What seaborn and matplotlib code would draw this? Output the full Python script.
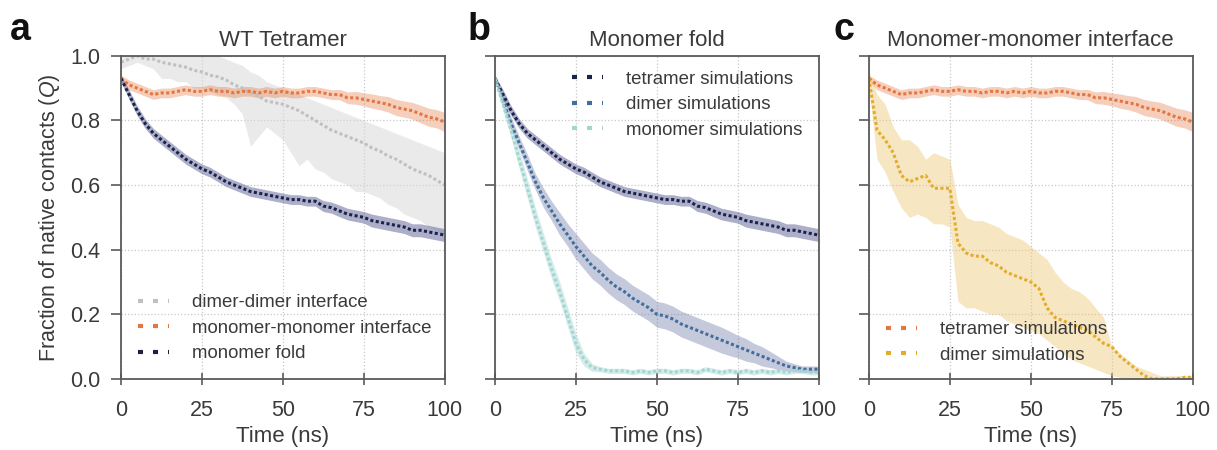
import numpy as np
import pandas as pd
import matplotlib
matplotlib.use('Agg')
import matplotlib.pyplot as plt
from matplotlib.lines import Line2D
import seaborn as sns

#%% data (values every 2.5 ns)
time = np.arange(0, 100.1, 2.5)

# a: WT tetramer
dimer_dimer = [0.98, 0.99, 1.0, 0.99, 0.99, 0.98, 0.975, 0.97, 0.965, 0.955, 0.95,
               0.94, 0.935, 0.925, 0.91, 0.90, 0.885, 0.875, 0.86, 0.855, 0.85,
               0.84, 0.83, 0.815, 0.80, 0.785, 0.77, 0.76, 0.75, 0.74, 0.73,
               0.715, 0.705, 0.69, 0.68, 0.665, 0.65, 0.64, 0.63, 0.615, 0.60]
dimer_dimer_lo = [0.96, 0.97, 0.98, 0.97, 0.96, 0.93, 0.93, 0.92, 0.92, 0.90, 0.90,
                  0.89, 0.88, 0.87, 0.85, 0.82, 0.72, 0.75, 0.78, 0.76, 0.74,
                  0.70, 0.66, 0.68, 0.65, 0.64, 0.62, 0.61, 0.60, 0.58, 0.58,
                  0.57, 0.56, 0.54, 0.53, 0.51, 0.50, 0.49, 0.47, 0.46, 0.44]
dimer_dimer_hi = [1.0, 1.0, 1.0, 1.0, 1.0, 1.0, 1.0, 1.0, 1.0, 1.0, 1.0,
                  1.0, 1.0, 0.99, 0.98, 0.97, 0.95, 0.94, 0.92, 0.91, 0.90,
                  0.89, 0.88, 0.87, 0.86, 0.85, 0.84, 0.83, 0.82, 0.81, 0.80,
                  0.79, 0.78, 0.77, 0.76, 0.75, 0.74, 0.73, 0.72, 0.71, 0.70]
mono_mono = [0.93, 0.91, 0.90, 0.89, 0.88, 0.885, 0.885, 0.89, 0.895, 0.89, 0.89,
             0.895, 0.89, 0.89, 0.885, 0.89, 0.89, 0.885, 0.89, 0.885, 0.89,
             0.885, 0.885, 0.89, 0.89, 0.885, 0.88, 0.88, 0.87, 0.87, 0.865,
             0.86, 0.855, 0.85, 0.84, 0.835, 0.83, 0.82, 0.81, 0.805, 0.795]
mono_mono_sd = [0.01, 0.015, 0.015, 0.015, 0.015, 0.015, 0.015, 0.015, 0.015, 0.015, 0.015,
                0.015, 0.015, 0.015, 0.015, 0.015, 0.015, 0.015, 0.015, 0.015, 0.015,
                0.015, 0.015, 0.015, 0.015, 0.015, 0.015, 0.016, 0.018, 0.02, 0.02,
                0.022, 0.022, 0.024, 0.025, 0.025, 0.026, 0.027, 0.028, 0.028, 0.03]
mono_fold = [0.93, 0.88, 0.83, 0.79, 0.76, 0.74, 0.72, 0.70, 0.68, 0.665, 0.65,
             0.64, 0.625, 0.61, 0.60, 0.59, 0.58, 0.575, 0.57, 0.565, 0.56,
             0.555, 0.555, 0.55, 0.55, 0.535, 0.53, 0.52, 0.51, 0.505, 0.50,
             0.49, 0.485, 0.48, 0.475, 0.47, 0.46, 0.46, 0.455, 0.45, 0.445]
mono_fold_sd = [0.01, 0.015, 0.015, 0.015, 0.015, 0.015, 0.015, 0.015, 0.015, 0.015, 0.015,
                0.015, 0.015, 0.015, 0.015, 0.015, 0.015, 0.015, 0.015, 0.015, 0.015,
                0.015, 0.015, 0.015, 0.015, 0.017, 0.017, 0.018, 0.018, 0.018, 0.018,
                0.02, 0.02, 0.02, 0.02, 0.02, 0.02, 0.02, 0.02, 0.02, 0.02]

# b: monomer fold in dimer / monomer simulations (tetramer = mono_fold)
dimer_fold = [0.93, 0.86, 0.79, 0.73, 0.67, 0.61, 0.56, 0.52, 0.48, 0.445, 0.41,
              0.38, 0.35, 0.33, 0.305, 0.285, 0.27, 0.25, 0.235, 0.22, 0.20,
              0.195, 0.185, 0.17, 0.16, 0.15, 0.14, 0.13, 0.12, 0.11, 0.10,
              0.09, 0.08, 0.07, 0.06, 0.05, 0.04, 0.035, 0.03, 0.03, 0.03]
dimer_fold_sd = [0.01, 0.015, 0.02, 0.02, 0.025, 0.025, 0.03, 0.03, 0.035, 0.035, 0.04,
                 0.04, 0.04, 0.04, 0.04, 0.04, 0.04, 0.04, 0.04, 0.04, 0.04,
                 0.04, 0.04, 0.04, 0.04, 0.04, 0.04, 0.04, 0.04, 0.038, 0.035,
                 0.035, 0.03, 0.03, 0.025, 0.02, 0.015, 0.012, 0.01, 0.01, 0.01]
monomer_fold = [0.93, 0.85, 0.77, 0.68, 0.59, 0.50, 0.42, 0.34, 0.27, 0.19, 0.11,
                0.06, 0.035, 0.03, 0.025, 0.025, 0.025, 0.02, 0.025, 0.02, 0.025,
                0.025, 0.02, 0.025, 0.025, 0.02, 0.03, 0.025, 0.02, 0.025, 0.02,
                0.025, 0.02, 0.025, 0.02, 0.025, 0.02, 0.025, 0.025, 0.02, 0.02]
monomer_fold_sd = [0.01, 0.02, 0.025, 0.03, 0.03, 0.03, 0.03, 0.03, 0.03, 0.03, 0.03,
                   0.02, 0.012, 0.008, 0.008, 0.008, 0.008, 0.008, 0.008, 0.008, 0.008,
                   0.008, 0.008, 0.008, 0.008, 0.008, 0.008, 0.008, 0.008, 0.008, 0.008,
                   0.008, 0.008, 0.008, 0.008, 0.008, 0.008, 0.008, 0.008, 0.008, 0.008]

# c: monomer-monomer interface in dimer simulations (tetramer = mono_mono)
dimer_iface = [0.93, 0.77, 0.74, 0.70, 0.63, 0.61, 0.62, 0.63, 0.59, 0.59, 0.59,
               0.42, 0.39, 0.38, 0.38, 0.36, 0.35, 0.33, 0.32, 0.31, 0.30,
               0.28, 0.22, 0.19, 0.18, 0.17, 0.16, 0.15, 0.13, 0.11, 0.10,
               0.07, 0.05, 0.03, 0.01, 0.0, 0.0, 0.0, 0.0, 0.005, 0.005]
dimer_iface_lo = [0.90, 0.68, 0.64, 0.58, 0.53, 0.50, 0.51, 0.50, 0.48, 0.48, 0.47,
                  0.24, 0.22, 0.22, 0.21, 0.20, 0.20, 0.18, 0.17, 0.16, 0.15,
                  0.14, 0.12, 0.10, 0.08, 0.06, 0.05, 0.04, 0.03, 0.02, 0.01,
                  0.005, 0.0, 0.0, 0.0, 0.0, 0.0, 0.0, 0.0, 0.0, 0.0]
dimer_iface_hi = [0.95, 0.88, 0.85, 0.78, 0.74, 0.74, 0.72, 0.68, 0.70, 0.69, 0.68,
                  0.54, 0.50, 0.49, 0.49, 0.48, 0.47, 0.45, 0.44, 0.43, 0.41,
                  0.39, 0.37, 0.33, 0.30, 0.28, 0.27, 0.25, 0.22, 0.19, 0.10,
                  0.08, 0.06, 0.04, 0.03, 0.02, 0.01, 0.01, 0.01, 0.01, 0.01]

titles = ['WT Tetramer', 'Monomer fold', 'Monomer-monomer interface']
letters = ['a', 'b', 'c']

c_grey, c_orange, c_navy = '#c0c0c0', '#e4763f', '#1c2348'
c_blue, c_teal, c_gold = '#416e9c', '#a3d6d2', '#e3ad2c'

#%% style
sns.set_style('ticks')
plt.rcParams['font.family'] = ['Liberation Sans', 'DejaVu Sans']
plt.rcParams['mathtext.fontset'] = 'custom'
plt.rcParams['mathtext.it'] = 'Liberation Sans:italic'
plt.rcParams['mathtext.rm'] = 'Liberation Sans'
txt = '#3a3a3a'

fig = plt.figure(figsize=(12.17, 4.5), dpi=100)
lefts = [0.0994, 0.4067, 0.714]
axes = [fig.add_axes([l, 0.158, 0.266, 0.718]) for l in lefts]


def draw(ax, y, lo, hi, color, band, alpha, label):
    ax.fill_between(time, lo, hi, color=band, alpha=alpha, lw=0)
    sns.lineplot(x=time, y=y, ax=ax, color=color, lw=2.2,
                 linestyle=(0, (1, 0.8)), label=label)


def sd_band(y, sd):
    y, sd = np.asarray(y), np.asarray(sd)
    return y - sd, y + sd


ax = axes[0]
draw(ax, dimer_dimer, dimer_dimer_lo, dimer_dimer_hi, c_grey, '#d9d9d9', 0.55,
     'dimer-dimer interface')
draw(ax, mono_mono, *sd_band(mono_mono, mono_mono_sd), c_orange, c_orange, 0.35,
     'monomer-monomer interface')
draw(ax, mono_fold, *sd_band(mono_fold, mono_fold_sd), c_navy, '#5a5f96', 0.5,
     'monomer fold')

ax = axes[1]
draw(ax, mono_fold, *sd_band(mono_fold, mono_fold_sd), c_navy, '#5a5f96', 0.5,
     'tetramer simulations')
draw(ax, dimer_fold, *sd_band(dimer_fold, dimer_fold_sd), c_blue, '#6f78a8', 0.4,
     'dimer simulations')
draw(ax, monomer_fold, *sd_band(monomer_fold, monomer_fold_sd), c_teal, c_teal, 0.45,
     'monomer simulations')

ax = axes[2]
draw(ax, mono_mono, *sd_band(mono_mono, mono_mono_sd), c_orange, c_orange, 0.35,
     'tetramer simulations')
draw(ax, dimer_iface, dimer_iface_lo, dimer_iface_hi, c_gold, '#efc878', 0.45,
     'dimer simulations')

legend_spec = [
    ('lower left', (0.0, 0.0), [c_grey, c_orange, c_navy]),
    ('upper right', (1.0, 1.005), [c_navy, c_blue, c_teal]),
    ('lower left', (0.0, -0.005), [c_orange, c_gold]),
]

for i, ax in enumerate(axes):
    ax.set_xlim(0, 100)
    ax.set_ylim(0, 1)
    ax.set_xticks([0, 25, 50, 75, 100])
    ax.set_yticks([0, 0.2, 0.4, 0.6, 0.8, 1.0])
    ax.grid(True, ls=':', color='#c8c8c8', lw=0.9)
    ax.set_axisbelow(True)
    for sp in ax.spines.values():
        sp.set_color('#5a5a5a')
        sp.set_linewidth(1.3)
    ax.tick_params(axis='x', direction='inout', length=9, width=1.2,
                   color='#5a5a5a', labelsize=15.5, labelcolor=txt, pad=11)
    ax.tick_params(axis='y', direction='out', length=7, width=1.2,
                   color='#5a5a5a', labelsize=15.5, labelcolor=txt, pad=8)
    ax.set_xlabel('Time (ns)', fontsize=16, color=txt, labelpad=3)
    if i == 0:
        ax.set_ylabel('Fraction of native contacts ($Q$)', fontsize=15.5,
                      color=txt, labelpad=6)
    else:
        ax.set_ylabel('')
        ax.set_yticklabels([])
    ax.set_title(titles[i], fontsize=16, color=txt, pad=7)

    loc, anchor, cols = legend_spec[i]
    labels = [l.get_label() for l in ax.get_lines()]
    handles = [Line2D([], [], color=c, lw=3, linestyle=(0, (1.2, 2.4)))
               for c in cols]
    ax.legend(handles, labels, loc=loc, bbox_to_anchor=anchor, frameon=False,
              fontsize=13.4, handlelength=1.7, handletextpad=1.2,
              labelspacing=0.45, labelcolor=txt)

for l, x in zip(letters, [0.008, 0.384, 0.685]):
    fig.text(x, 0.912, l, fontsize=27, fontweight='bold', color='#111111')

fig.savefig('out.png', dpi=100)
